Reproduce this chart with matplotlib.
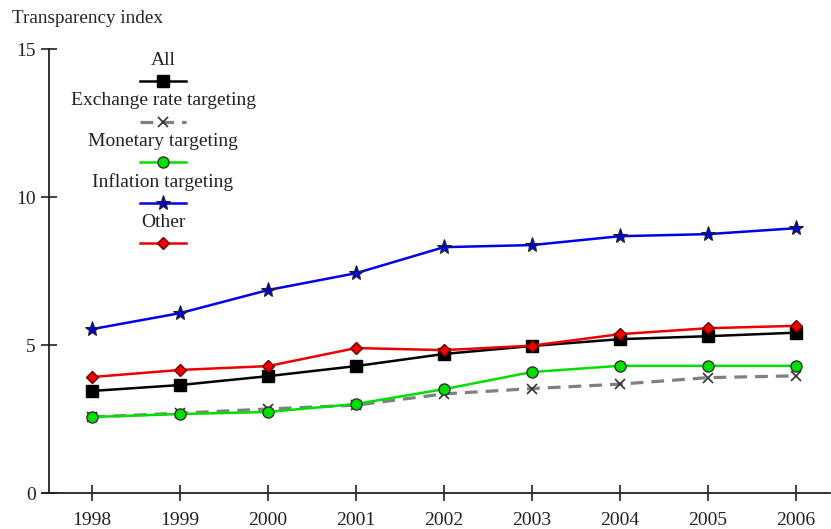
import matplotlib
matplotlib.use('Agg')
import matplotlib.pyplot as plt

plt.rcParams['font.family'] = ['Liberation Serif', 'DejaVu Serif']

years = [1998, 1999, 2000, 2001, 2002, 2003, 2004, 2005, 2006]
all_ct = [3.45, 3.65, 3.95, 4.29, 4.70, 4.97, 5.20, 5.30, 5.42]
exch_rate = [2.57, 2.70, 2.84, 2.97, 3.35, 3.53, 3.68, 3.90, 3.96]
monetary = [2.57, 2.67, 2.74, 3.01, 3.51, 4.09, 4.30, 4.30, 4.30]
inflation = [5.54, 6.08, 6.86, 7.43, 8.31, 8.38, 8.68, 8.75, 8.95]
other = [3.92, 4.16, 4.29, 4.90, 4.83, 4.98, 5.37, 5.57, 5.65]

series = [
    ('All', all_ct, dict(color='black', marker='s', ms=8, mfc='black', mec='black', ls='-')),
    ('Exchange rate targeting', exch_rate, dict(color='#808080', marker='x', ms=7, mec='#333333', mew=1.2, ls=(0, (4, 2.5)), lw=2.3)),
    ('Monetary targeting', monetary, dict(color='#00e000', marker='o', ms=8, mfc='#00e000', mec='#333333', ls='-')),
    ('Inflation targeting', inflation, dict(color='#0000ee', marker='*', ms=11, mfc='#0000cc', mec='#222222', mew=0.8, ls='-')),
    ('Other', other, dict(color='#ee0000', marker='D', ms=6, mfc='#ee0000', mec='#660000', ls='-')),
]

fig = plt.figure(figsize=(8.31, 5.29), dpi=100)
ax = fig.add_axes([0.059, 0.068, 0.94, 0.839])

for name, vals, st in series:
    kw = dict(lw=1.8)
    kw.update(st)
    ax.plot(years, vals, zorder=3, **kw)

ax.set_xlim(1997.51, 2006.39)
ax.set_ylim(0, 15)
ax.set_yticks([0, 5, 10, 15])
ax.set_xticks(years)
for s in ['top', 'right']:
    ax.spines[s].set_visible(False)
for s in ['left', 'bottom']:
    ax.spines[s].set_linewidth(1.3)
    ax.spines[s].set_color('#222222')
ax.tick_params(direction='inout', length=11, width=1.2, color='#222222',
               labelsize=14, labelcolor='#222222', pad=4)
ax.tick_params(axis='x', pad=8)
ax.spines['bottom'].set_bounds(1997.43, 2006.39)

fig.text(0.014, 0.965, 'Transparency index', fontsize=13.8, color='#222222', va='center')

# legend: label above its sample line
lx = (163 - 49) / (0.94 * 831)
for i, (name, vals, st) in enumerate(series):
    ty = 1 - (60 + 40.5 * i - 49) / (0.839 * 529)
    ly = 1 - (81 + 40.5 * i - 49) / (0.839 * 529)
    ax.text(lx, ty, name, transform=ax.transAxes, ha='center', va='center',
            fontsize=14, color='#222222')
    kw = dict(lw=1.8)
    kw.update(st)
    ax.plot([lx - 0.029, lx + 0.029], [ly, ly], transform=ax.transAxes, clip_on=False,
            **{k: v for k, v in kw.items() if k != 'marker'})
    ax.plot([lx], [ly], transform=ax.transAxes, clip_on=False, ls='none',
            **{k: v for k, v in kw.items() if k not in ('ls', 'lw')})

fig.savefig('out.png', dpi=100)
